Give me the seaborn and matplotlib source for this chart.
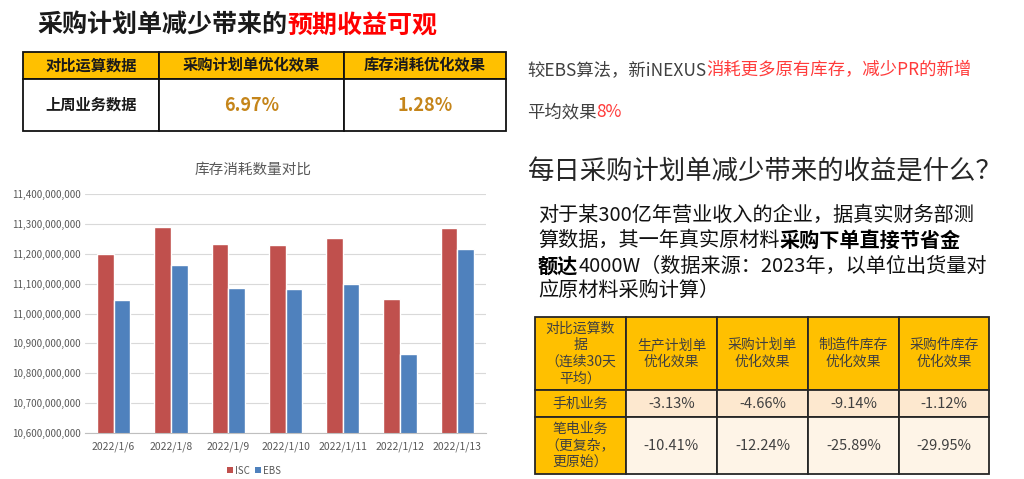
import pandas as pd
import seaborn as sns
import matplotlib.pyplot as plt
from matplotlib.patches import Rectangle
from matplotlib.ticker import FuncFormatter, FixedLocator

# ---- data ----
dates = ['2022/1/6', '2022/1/8', '2022/1/9', '2022/1/10', '2022/1/11', '2022/1/12', '2022/1/13']
isc = [11_200_000_000, 11_289_000_000, 11_232_000_000, 11_230_000_000, 11_252_000_000, 11_050_000_000, 11_285_000_000]
ebs = [11_045_000_000, 11_162_000_000, 11_084_000_000, 11_081_000_000, 11_099_000_000, 10_864_000_000, 11_216_000_000]

top_header = ['对比运算数据', '采购计划单优化效果', '库存消耗优化效果']
top_row = ['上周业务数据', '6.97%', '1.28%']

bottom_header = ['对比运算数\n据\n（连续30天\n平均）', '生产计划单\n优化效果', '采购计划单\n优化效果',
                 '制造件库存\n优化效果', '采购件库存\n优化效果']
bottom_rows = [
    ['手机业务', '-3.13%', '-4.66%', '-9.14%', '-1.12%'],
    ['笔电业务\n（更复杂，\n更原始）', '-10.41%', '-12.24%', '-25.89%', '-29.95%'],
]

sns.set_style('white')
plt.rcParams['font.family'] = ['Noto Sans CJK SC', 'DejaVu Sans']

W, H = 1024, 479
fig = plt.figure(figsize=(W / 100, H / 100), dpi=100)

# overlay axes in pixel coordinates for the slide text and tables
bg = fig.add_axes([0, 0, 1, 1])
bg.set_xlim(0, W)
bg.set_ylim(H, 0)
bg.axis('off')
renderer = fig.canvas.get_renderer()


def seg_text(x, y, parts, **kw):
    # write text pieces one after another on one line
    for s, color, extra in parts:
        t = bg.text(x, y, s, color=color, va='center', ha='left', **kw, **extra)
        x += t.get_window_extent(renderer=renderer).width


def draw_table(xs, ys, cells, fills, styles, edge):
    for i in range(len(ys) - 1):
        for j in range(len(xs) - 1):
            bg.add_patch(Rectangle((xs[j], ys[i]), xs[j + 1] - xs[j], ys[i + 1] - ys[i],
                                   facecolor=fills[i][j], edgecolor=edge, lw=1.3, zorder=1))
            bg.text((xs[j] + xs[j + 1]) / 2, (ys[i] + ys[i + 1]) / 2, cells[i][j],
                    ha='center', va='center', zorder=2, linespacing=1.25, **styles[i][j])


# title top left
seg_text(37, 26, [('采购计划单减少带来的', '#1a1a1a', {}), ('预期收益可观', '#ff0000', {})],
         fontsize=18, fontweight='bold')

# top table
amber = '#FFC000'
hdr = dict(fontsize=11, fontweight='bold', color='#1a1a1a')
val = dict(fontsize=13, fontweight='bold', color='#C5851A')
draw_table([23, 159, 344, 506], [52, 79, 131],
           [top_header, top_row],
           [[amber] * 3, ['white'] * 3],
           [[hdr] * 3, [dict(fontsize=11, fontweight='bold', color='#1a1a1a'), val, val]],
           '#111111')

# right text
seg_text(527, 70, [('较EBS算法，新iNEXUS', '#404040', {}), ('消耗更多原有库存，减少PR的新增', '#ff3b3b', {})],
         fontsize=12.5)
seg_text(527, 112, [('平均效果', '#404040', {}), ('8%', '#ff3b3b', {})], fontsize=12.5)

bg.text(528, 172, '每日采购计划单减少带来的收益是什么？', fontsize=19, color='#262626',
        va='center', ha='left', fontweight='light')

seg_text(538, 215, [('对于某300亿年营业收入的企业，据真实财务部测', '#111111', {})], fontsize=14.5)
seg_text(538, 240, [('算数据，其一年真实原材料', '#111111', {}),
                    ('采购下单直接节省金', '#000000', {'fontweight': 'heavy'})], fontsize=14.5)
seg_text(538, 266, [('额达', '#000000', {'fontweight': 'heavy'}),
                    ('4000W（数据来源：2023年，以单位出货量对', '#111111', {})], fontsize=14.5)
seg_text(538, 290, [('应原材料采购计算）', '#111111', {})], fontsize=14.5)

# bottom right table
txt = dict(fontsize=10, color='#404040')
row2 = '#FDE8CF'
row3 = '#FEF4E7'
num = dict(fontsize=10.5, color='#404040')
draw_table([535, 626, 717, 808, 899, 989], [317, 390, 417, 474],
           [bottom_header] + bottom_rows,
           [[amber] * 5, [amber] + [row2] * 4, [amber] + [row3] * 4],
           [[txt] * 5, [txt] + [num] * 4, [txt] + [num] * 4],
           '#262626')

# ---- bar chart ----
df = pd.DataFrame({
    'date': dates * 2,
    'series': ['ISC'] * len(dates) + ['EBS'] * len(dates),
    'value': isc + ebs,
})

ax = fig.add_axes([85 / W, 1 - 433 / H, (486 - 85) / W, (433 - 194) / H])
sns.barplot(data=df, x='date', y='value', hue='series', order=dates,
            palette={'ISC': '#C0504D', 'EBS': '#4F81BD'}, width=0.58,
            saturation=1, ax=ax, legend=False)
ax.set_ylim(10_600_000_000, 11_400_000_000)
ax.set_xlim(-0.5, len(dates) - 0.5)
ax.yaxis.set_major_locator(FixedLocator([10_600_000_000 + k * 100_000_000 for k in range(9)]))
ax.yaxis.set_major_formatter(FuncFormatter(lambda v, p: f'{v:,.0f}'))
ax.grid(axis='y', color='#D9D9D9', lw=0.8)
ax.set_axisbelow(True)
for s in ['top', 'right', 'left']:
    ax.spines[s].set_visible(False)
ax.spines['bottom'].set_color('#BFBFBF')
ax.set_xlabel('')
ax.set_ylabel('')
ax.tick_params(axis='y', length=0, labelsize=7, labelcolor='#595959', pad=3)
ax.tick_params(axis='x', which='major', length=0, labelsize=7.5, labelcolor='#595959', pad=6)
ax.set_xticks([i - 0.5 for i in range(len(dates) + 1)], minor=True)
ax.tick_params(axis='x', which='minor', length=4, color='#BFBFBF')

bg.text(253, 170, '库存消耗数量对比', fontsize=10.5, color='#595959', ha='center', va='center')
# legend
lx = 227
for name, color in [('ISC', '#C0504D'), ('EBS', '#4F81BD')]:
    bg.add_patch(Rectangle((lx, 467), 6, 6, facecolor=color, edgecolor='none'))
    t = bg.text(lx + 8, 470.5, name, fontsize=7, color='#595959', va='center', ha='left')
    lx += 8 + t.get_window_extent(renderer=renderer).width + 5

fig.savefig('out.png', dpi=100)
